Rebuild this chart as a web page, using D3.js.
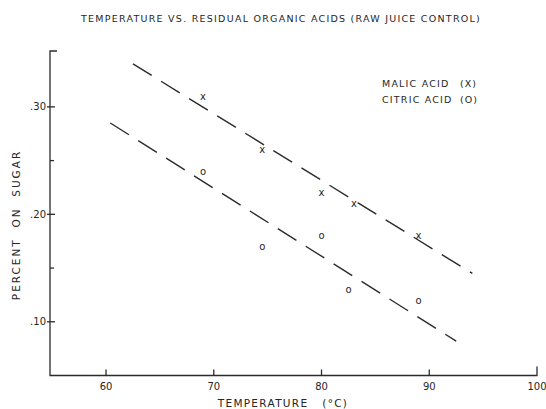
<!DOCTYPE html>
<html>
<head>
<meta charset="utf-8">
<script src="https://cdn.jsdelivr.net/npm/d3@7"></script>
<style>
  html, body { margin: 0; padding: 0; background: #fff; }
  svg { display: block; }
  text { font-family: "DejaVu Sans", sans-serif; fill: #262626; }
</style>
</head>
<body>
<svg id="chart" width="546" height="409"></svg>
<script>
// ---- data ----
const malicTemp   = [69, 74.5, 80, 83, 89];
const malicValue  = [0.31, 0.26, 0.22, 0.21, 0.18];
const citricTemp  = [69, 74.5, 80, 82.5, 89];
const citricValue = [0.24, 0.17, 0.18, 0.13, 0.12];
// hand-drawn fit lines (endpoints, temperature / percent)
const malicFit  = [[62.5, 0.340], [94.0, 0.145]];
const citricFit = [[60.4, 0.285], [92.5, 0.082]];
const xTicks = [60, 70, 80, 90, 100];
const xTickLabels = ["60", "70", "80", "90", "100"];
const yMajorTicks = [0.10, 0.20, 0.30];
const yMajorLabels = [".10", ".20", ".30"];
const yMinorTicks = [0.15, 0.25];
const title = "TEMPERATURE VS. RESIDUAL ORGANIC ACIDS (RAW JUICE CONTROL)";
const xTitle = "TEMPERATURE   (°C)";
const yTitle = "PERCENT  ON  SUGAR";
const legendNames = ["MALIC ACID", "CITRIC ACID"];
const legendMarks = ["(X)", "(O)"];

const ink = "#2b2b2b";
const svg = d3.select("#chart");
const x = d3.scaleLinear().domain([54.8, 100]).range([50, 537]);
const y = d3.scaleLinear().domain([0.05, 0.352]).range([375.5, 51]);

// title
svg.append("text").attr("x", 281).attr("y", 22).attr("text-anchor", "middle")
  .attr("font-size", 9.5).attr("letter-spacing", 1.25).text(title);

// axes lines
const g = svg.append("g").attr("stroke", ink).attr("stroke-width", 1.3).attr("fill", "none");
g.append("path").attr("d", `M${x(54.8)+7},${y(0.352)} H${x(54.8)} V${y(0.05)} H${x(100)} V${y(0.05)-9}`);
// x ticks
xTicks.slice(0, 4).forEach(t => {
  g.append("line").attr("x1", x(t)).attr("x2", x(t)).attr("y1", y(0.05)).attr("y2", y(0.05) - 6);
});
// y ticks
yMajorTicks.forEach(v => {
  g.append("line").attr("x1", x(54.8) - 3).attr("x2", x(54.8) + 5).attr("y1", y(v)).attr("y2", y(v));
});
yMinorTicks.forEach(v => {
  g.append("line").attr("x1", x(54.8)).attr("x2", x(54.8) + 4).attr("y1", y(v)).attr("y2", y(v));
});

// tick labels
xTicks.forEach((t, i) => {
  svg.append("text").attr("x", x(t)).attr("y", 390).attr("text-anchor", "middle")
    .attr("font-size", 10).text(xTickLabels[i]);
});
yMajorTicks.forEach((v, i) => {
  svg.append("text").attr("x", 46).attr("y", y(v) + 3.5).attr("text-anchor", "end")
    .attr("font-size", 10).text(yMajorLabels[i]);
});

// axis titles
svg.append("text").attr("x", 283).attr("y", 407).attr("text-anchor", "middle")
  .attr("font-size", 10.5).attr("letter-spacing", 1.3).attr("xml:space", "preserve").text(xTitle);
svg.append("text").attr("transform", "translate(20,225) rotate(-90)").attr("text-anchor", "middle")
  .attr("font-size", 10.5).attr("letter-spacing", 2.0).attr("xml:space", "preserve").text(yTitle);

// fit lines (dashed)
const line = d3.line().x(d => x(d[0])).y(d => y(d[1]));
[malicFit, citricFit].forEach(f => {
  svg.append("path").attr("d", line(f)).attr("fill", "none").attr("stroke", ink)
    .attr("stroke-width", 1.4).attr("stroke-dasharray", "22,11");
});

// points as typed letters
malicTemp.forEach((t, i) => {
  svg.append("text").attr("x", x(t)).attr("y", y(malicValue[i]) + 3.5).attr("text-anchor", "middle")
    .attr("font-size", 10).text("x");
});
citricTemp.forEach((t, i) => {
  svg.append("text").attr("x", x(t)).attr("y", y(citricValue[i]) + 3.5).attr("text-anchor", "middle")
    .attr("font-size", 10).text("o");
});

// legend
legendNames.forEach((n, i) => {
  svg.append("text").attr("x", 382).attr("y", 87 + i * 16).attr("font-size", 9.5)
    .attr("letter-spacing", 1.2).text(n);
  svg.append("text").attr("x", 460).attr("y", 87 + i * 16).attr("font-size", 9.5)
    .attr("letter-spacing", 1.0).text(legendMarks[i]);
});
</script>
</body>
</html>
